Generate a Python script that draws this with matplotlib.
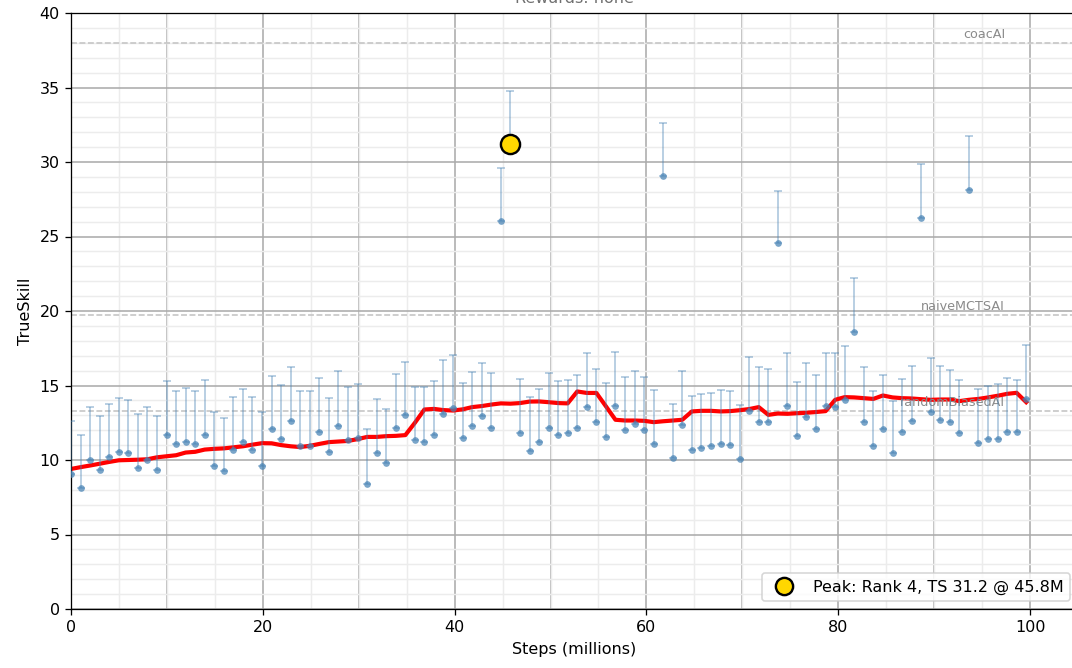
import numpy as np
import matplotlib
matplotlib.use("Agg")
import matplotlib.pyplot as plt
import matplotlib.colors as mcolors
from matplotlib.ticker import MultipleLocator

# Checkpoint steps (millions)
steps = [0.00, 1.00, 1.99, 2.99, 3.98, 4.98, 5.98, 6.97, 7.97, 8.96,
         9.96, 10.96, 11.95, 12.95, 13.94, 14.94, 15.94, 16.93, 17.93, 18.92,
         19.92, 20.92, 21.91, 22.91, 23.90, 24.90, 25.90, 26.89, 27.89, 28.88,
         29.88, 30.88, 31.87, 32.87, 33.86, 34.86, 35.86, 36.85, 37.85, 38.84,
         39.84, 40.84, 41.83, 42.83, 43.82, 44.82, 45.82, 46.81, 47.81, 48.80,
         49.80, 50.80, 51.79, 52.79, 53.78, 54.78, 55.78, 56.77, 57.77, 58.76,
         59.76, 60.76, 61.75, 62.75, 63.74, 64.74, 65.74, 66.73, 67.73, 68.72,
         69.72, 70.72, 71.71, 72.71, 73.70, 74.70, 75.70, 76.69, 77.69, 78.68,
         79.68, 80.68, 81.67, 82.67, 83.66, 84.66, 85.66, 86.65, 87.65, 88.64,
         89.64, 90.64, 91.63, 92.63, 93.62, 94.62, 95.62, 96.61, 97.61, 98.60,
         99.60]

# TrueSkill per checkpoint
ts = [9.03, 8.09, 10.03, 9.36, 10.17, 10.57, 10.50, 9.47, 9.99, 9.36,
      11.67, 11.09, 11.20, 11.09, 11.71, 9.61, 9.25, 10.64, 11.20, 10.64,
      9.59, 12.07, 11.38, 12.65, 10.95, 10.95, 11.89, 10.57, 12.29, 11.31,
      11.49, 8.42, 10.50, 9.81, 12.14, 13.01, 11.31, 11.24, 11.67, 13.12,
      13.46, 11.49, 12.29, 12.94, 12.18, 26.06, 31.20, 11.78, 10.62, 11.20,
      12.14, 11.67, 11.78, 12.16, 13.59, 12.54, 11.55, 13.64, 11.98, 12.43,
      11.98, 11.09, 29.06, 10.15, 12.36, 10.70, 10.79, 10.91, 11.09, 11.02,
      10.10, 13.32, 12.58, 12.54, 24.56, 13.64, 11.60, 12.87, 12.07, 13.64,
      13.57, 14.04, 18.58, 12.58, 10.95, 12.07, 10.44, 11.89, 12.65, 26.24,
      13.23, 12.70, 12.52, 11.82, 28.12, 11.13, 11.38, 11.42, 11.89, 11.85,
      14.11]

# top of the error bar
ts_hi = [12.65, 11.69, 13.59, 12.94, 13.79, 14.19, 14.06, 13.10, 13.59, 12.92,
         15.29, 14.66, 14.82, 14.66, 15.40, 13.21, 12.85, 14.24, 14.75, 14.24,
         13.21, 15.63, 15.02, 16.23, 14.60, 14.60, 15.51, 14.19, 15.98, 14.93,
         15.11, 12.05, 14.08, 13.41, 15.76, 16.61, 14.93, 14.89, 15.29, 16.72,
         17.08, 15.16, 15.92, 16.54, 15.81, 29.62, 34.79, 15.45, 14.24, 14.78,
         15.81, 15.29, 15.36, 15.69, 17.15, 16.14, 15.18, 17.26, 15.56, 15.98,
         15.58, 14.71, 32.62, 13.79, 15.98, 14.31, 14.44, 14.49, 14.71, 14.64,
         13.72, 16.90, 16.23, 16.14, 28.05, 17.19, 15.22, 16.50, 15.69, 17.19,
         17.19, 17.62, 22.20, 16.21, 14.60, 15.69, 13.99, 15.45, 16.28, 29.87,
         16.86, 16.34, 16.07, 15.40, 31.74, 14.75, 15.00, 15.07, 15.51, 15.40,
         17.71]

# smoothed trend (red line)
trend = [9.40, 9.52, 9.63, 9.75, 9.87, 9.98, 10.00, 10.02, 10.05, 10.18,
         10.25, 10.32, 10.50, 10.55, 10.70, 10.75, 10.78, 10.85, 10.92, 11.03,
         11.13, 11.12, 11.00, 10.92, 10.87, 10.95, 11.08, 11.20, 11.24, 11.28,
         11.40, 11.55, 11.55, 11.60, 11.62, 11.67, 12.50, 13.39, 13.43, 13.35,
         13.32, 13.40, 13.55, 13.62, 13.72, 13.80, 13.78, 13.82, 13.92, 13.93,
         13.88, 13.82, 13.80, 14.60, 14.50, 14.50, 13.60, 12.70, 12.65, 12.65,
         12.63, 12.54, 12.60, 12.65, 12.70, 13.26, 13.30, 13.30, 13.26, 13.28,
         13.34, 13.42, 13.55, 13.03, 13.12, 13.10, 13.14, 13.17, 13.22, 13.28,
         14.04, 14.22, 14.20, 14.15, 14.10, 14.33, 14.20, 14.15, 14.13, 14.08,
         14.04, 14.06, 14.06, 13.95, 14.04, 14.10, 14.20, 14.31, 14.44, 14.51,
         13.88]

ref_names = ["coacAI", "naiveMCTSAI", "randomBiasedAI"]
ref_vals = [38.0, 19.75, 13.28]

peak_step = 45.82
peak_ts = 31.2
peak_label = "Peak: Rank 4, TS 31.2 @ 45.8M"

ts = np.array(ts)
err_up = np.array(ts_hi) - ts
err = [np.zeros_like(err_up), err_up]

dpi = 115
fig = plt.figure(figsize=(1072 / dpi, 668 / dpi), dpi=dpi)
ax = fig.add_axes([71 / 1072, 59 / 668, 1007 / 1072, 596 / 668])

# grid: dark every 10 / 5, light in between
ax.set_axisbelow(True)
ax.xaxis.set_major_locator(MultipleLocator(20))
ax.xaxis.set_minor_locator(MultipleLocator(5))
ax.yaxis.set_major_locator(MultipleLocator(5))
ax.yaxis.set_minor_locator(MultipleLocator(1))
ax.tick_params(which="minor", length=0)
ax.grid(which="major", color="#ababab", lw=1.0)
ax.grid(which="minor", color="#ececec", lw=0.9)
for v in np.arange(10, 105, 20):
    ax.axvline(v, color="#ababab", lw=1.0, zorder=0.5)

# reference bots
for name, val in zip(ref_names, ref_vals):
    ax.axhline(val, color="#c4c4c4", ls="--", lw=1.0, zorder=1)
    ax.text(97.4, val + 0.12, name, ha="right", va="bottom",
            fontsize=8, color="#8a8a8a")

ax.errorbar(steps, ts, yerr=err, fmt="o", ms=4.2,
            color=mcolors.to_rgba("steelblue", 0.72),
            mec="none",
            ecolor=mcolors.to_rgba("steelblue", 0.42),
            elinewidth=1.1, capsize=2.2, capthick=1.1, zorder=3)
ax.plot(steps, trend, color="red", lw=2.6, zorder=2.5)

ax.plot(peak_step, peak_ts, "o", ms=12, mfc="gold", mec="black", mew=1.5,
        ls="none", label=peak_label, zorder=5)

ax.set_xlim(0, 105)
ax.set_ylim(0, 40)
ax.set_xlabel("Steps (millions)")
ax.set_ylabel("TrueSkill")
ax.set_title("Rewards: none", fontsize=10, color="#707070")
ax.legend(loc="lower right", fontsize=10, markerscale=0.9)

fig.savefig("out.png", dpi=dpi)
